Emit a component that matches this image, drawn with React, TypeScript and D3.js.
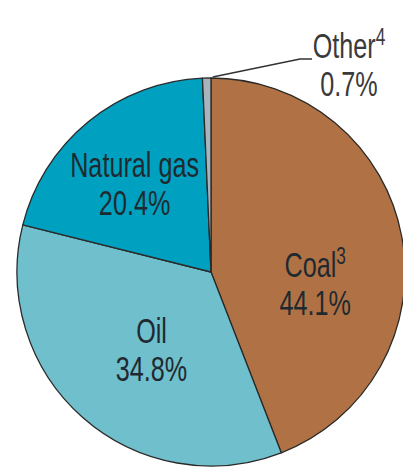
import React from "react";
import * as d3 from "d3";

const categories = ["Coal", "Oil", "Natural gas", "Other"];
const superscripts = ["3", "", "", "4"];
const values = [44.1, 34.8, 20.4, 0.7];
const colors = ["#B07245", "#70BFCC", "#00A1C0", "#A9B3BB"];

const W = 403;
const H = 471;
const CX = 211;
const CY = 272;
const R = 194;
const LABEL_R = 105;
const FONT = "'Liberation Sans', Arial, sans-serif";
const FS = 35;
const SX = 0.72;
const LINE = 38;
// offsets of first-line baseline from centroid
const labelOffsets: [number, number][] = [
  [1, 24],
  [10, -8],
  [-10, -14],
  [0, 0],
];

export default function App() {
  const pie = d3
    .pie<number>()
    .sort(null)
    .value((d) => d);
  const arcs = pie(values);
  const arc = d3.arc<d3.PieArcDatum<number>>().innerRadius(0).outerRadius(R);
  const labelArc = d3
    .arc<d3.PieArcDatum<number>>()
    .innerRadius(LABEL_R)
    .outerRadius(LABEL_R);

  const other = arcs[3];
  const otherMid = (other.startAngle + other.endAngle) / 2;
  const lx0 = CX + R * Math.sin(otherMid) + 6;
  const ly0 = CY - R * Math.cos(otherMid) - 1;

  return (
    <svg
      width={W}
      height={H}
      style={{ position: "absolute", left: 0, top: 0, background: "#fff" }}
    >
      <g transform={`translate(${CX},${CY})`}>
        {arcs.map((a, i) => (
          <path
            key={i}
            d={arc(a) || ""}
            fill={colors[i]}
            stroke="#2a2a2a"
            strokeWidth={1.3}
            strokeLinejoin="round"
          />
        ))}
      </g>
      <polyline
        points={`${lx0},${ly0} 300,59 312,59`}
        fill="none"
        stroke="#333"
        strokeWidth={1.6}
      />
      {arcs.map((a, i) => {
        let x: number, y: number;
        if (i === 3) {
          x = 349;
          y = 58;
        } else {
          const [cx, cy] = labelArc.centroid(a);
          x = CX + cx + labelOffsets[i][0];
          y = CY + cy + labelOffsets[i][1];
        }
        const fill = i === 3 ? "#3a3a3a" : "#1f2a30";
        return (
          <g key={i} transform={`translate(${x},${y}) scale(${SX},1)`}>
            <text
              textAnchor="middle"
              fontFamily={FONT}
              fontSize={FS}
              fill={fill}
            >
              {categories[i]}
              {superscripts[i] && (
                <tspan fontSize={24} dy={-13}>
                  {superscripts[i]}
                </tspan>
              )}
            </text>
            <text
              y={LINE}
              textAnchor="middle"
              fontFamily={FONT}
              fontSize={FS}
              fill={fill}
            >
              {values[i].toFixed(1)}%
            </text>
          </g>
        );
      })}
    </svg>
  );
}
